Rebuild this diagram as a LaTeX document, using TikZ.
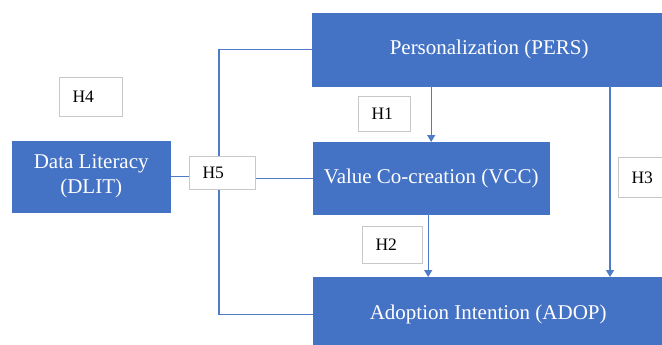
\documentclass[tikz,border=0pt]{standalone}
\usepackage{fontspec}
\setmainfont{Liberation Serif}
\usetikzlibrary{arrows.meta,backgrounds}
\definecolor{boxblue}{HTML}{4472C4}
\definecolor{lineblue}{HTML}{4F7BC8}
\definecolor{lblgray}{HTML}{C8C8C8}
\begin{document}
\begin{tikzpicture}[x=1pt,y=-1pt,
  blk/.style={draw=boxblue, fill=boxblue, text=white, anchor=north west,
    font=\fontsize{21}{25}\selectfont, inner sep=0pt, align=center},
  lbl/.style={draw=lblgray, line width=1pt, fill=white, text=black, anchor=north west,
    font=\fontsize{17.5}{20}\selectfont, inner xsep=13pt, inner ysep=0pt, align=left},
  conn/.style={draw=lineblue, line width=1.4pt},
  arr/.style={conn, -{Triangle[width=8pt,length=7pt]}}]
\useasboundingbox (0,0) rectangle (662,345);
\clip (0,0) rectangle (662,345);
% blue boxes
\node[blk, minimum width=354pt, minimum height=73pt] (pers) at (312,13) {Personalization (PERS)};
\node[blk, minimum width=236pt, minimum height=72pt] (vcc) at (313,142) {Value Co-creation (VCC)};
\node[blk, minimum width=350pt, minimum height=74pt] (adop) at (313,277) {Adoption Intention (ADOP)};
\node[blk, minimum width=158pt, minimum height=71pt] (dlit) at (12,141) {Data Literacy\\(DLIT)};
% hypothesis labels
\node[lbl, minimum width=63pt, minimum height=39pt, text width=37pt] (h4) at (59,77) {H4};
\node[lbl, minimum width=52pt, minimum height=35pt, text width=26pt] (h1) at (358,96) {H1};
\node[lbl, minimum width=66pt, minimum height=33pt, text width=40pt] (h5) at (189,156) {H5};
\node[lbl, minimum width=60pt, minimum height=37pt, text width=34pt, inner xsep=12pt] (h2) at (362,226) {H2};
\node[lbl, minimum width=60pt, minimum height=40pt, text width=34pt] (h3) at (618,157) {H3};
% coordinates for connector paths
\coordinate (vx) at (219,0);
\coordinate (h3x) at (610,0);
% connectors (behind the boxes)
\begin{scope}[on background layer]
\draw[conn] (pers.west) -- (pers.west -| vx) -- (adop.west -| vx) -- (adop.west);
\draw[conn] (dlit.east) -- (h5.west |- dlit.east);
\draw[conn] (h5.east |- vcc.west) -- (vcc.west);
\end{scope}
\draw[arr] (pers.south -| vcc.north) -- (vcc.north);
\draw[arr] ([xshift=-3pt]vcc.south) -- ([xshift=-3pt]vcc.south |- adop.north);
\draw[arr] (pers.south -| h3x) -- (adop.north -| h3x);
\end{tikzpicture}
\end{document}
